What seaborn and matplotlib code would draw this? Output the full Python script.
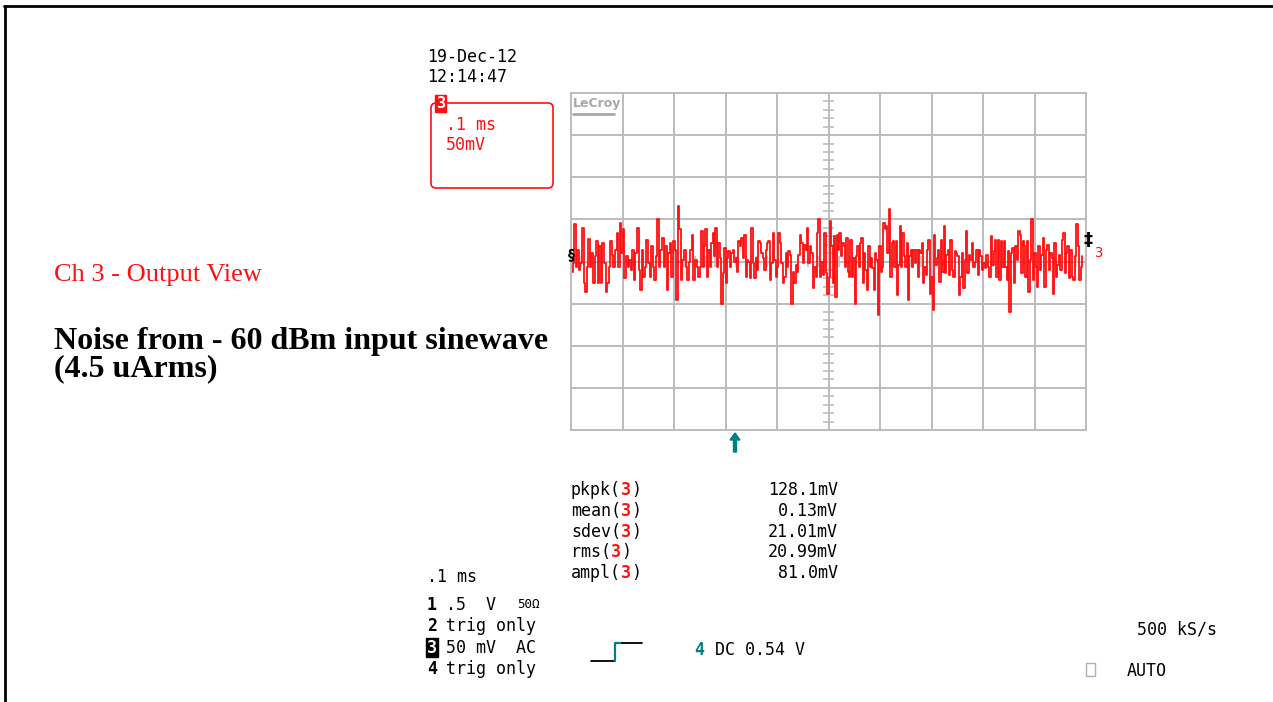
import numpy as np
import pandas as pd
import matplotlib
matplotlib.use("Agg")
import matplotlib.pyplot as plt
import seaborn as sns
from matplotlib.patches import FancyBboxPatch, Rectangle, FancyArrow
from matplotlib.lines import Line2D
from matplotlib.transforms import IdentityTransform

# Noise trace, mV, in four time spans (ms)
seg1 = [-12, -2, 44, -6, 14, -10, -2, 40, -26, -36, -6, 27, -6, 10, -26, 6, 24, -26, 18, -26,
        22, -2, -36, -26, -6, 24, 8, -6, 14, 34, -6, 46, 10, 38, -20, 6, -6, 2, -10, 14,
        -22, 10, 40, -10, -34, 14, -18, -6, 26, -2, -18, 18, -6, -22, 6, 50, -6, 14, 28, -6,
        18, -34, 10, 22, -18, 24, 14, -46, 66, 38, -22, 2, 14, -6, -22, 0, 14, 32, -22, 2,
        -6, -18]
seg2 = [-6, 36, -6, 18, 38, -18, 14, -6, 22, 34, 6, 40, -6, 22, 4, -50, -14, 16, -26, 4,
        12, -6, 10, 14, 0, 4, -12, 24, 18, 28, 4, 32, -18, 2, 0, -20, 40, -2, -20, 4,
        -10, 24, 22, 10, 4, -10, 14, 22, 24, -22, -2, 34, 2, -18, -6, 34, 22, -2, -26, -18,
        10, -6, 12, 8, -50, -12, -26, -4, -12, 8, 32, 22, -2, 20, 14, 40, -2, 18, 10, -32,
        -6, -18, 34, 50, -18, 0, -16, 34, -14, -38]
seg3 = [-18, 48, 18, -26, 30, -42, 32, 14, 34, 6, 22, 18, -6, 28, -12, -18, 26, -18, 4, -50,
        6, 18, -6, 22, 28, -26, 10, -10, -34, 18, -6, 4, -8, -34, 10, 2, -64, 18, -12, -6,
        46, 38, 42, 10, 62, -18, 22, 24, -6, 24, -40, -4, 42, -6, 34, 6, -6, 22, -46, 6,
        14, -6, 14, -2, 14, -18, 14, 10, 22, -26, -6, -16, 14, 26, -38, -18, -58, 32, -4, 4,
        14, -24, 26, -12, 42, -14, 8, 14, -16, 26, -10, -18, 12, 10]
seg4 = [6, -40, -18, 10, -32, 2, 36, -14, 8, 2, 22, -6, 0, 14, -16, 14, 6, -10, -2, -8,
        8, -6, -18, 30, -4, 12, 26, -18, 26, -22, 24, -6, 24, -6, -22, 12, -60, 10, 16, -26,
        18, 2, 36, 32, -14, 24, 18, -18, 24, -36, 2, 50, -22, 10, -6, -30, 18, -10, 8, 28,
        -30, 14, 20, -10, 10, 4, -38, 22, -18, -4, 8, -10, 26, 34, -14, 10, 18, -20, 14, -18,
        -22, 6, 44, 18, -22, -6, 6]
seg_spans = [(0.0, 0.25), (0.25, 0.5), (0.5, 0.75), (0.75, 0.995)]

measure_names = ["pkpk", "mean", "sdev", "rms", "ampl"]
measure_values = ["128.1mV", "0.13mV", "21.01mV", "20.99mV", "81.0mV"]
channel_labels = ["1", "2", "3", "4"]
channel_settings = [".5  V", "trig only", "50 mV  AC", "trig only"]

parts = []
for seg, (t0, t1) in zip([seg1, seg2, seg3, seg4], seg_spans):
    parts.append(pd.DataFrame({"t": np.linspace(t0, t1, len(seg), endpoint=False), "mV": seg}))
df = pd.concat(parts, ignore_index=True)

sns.set_style("white")
plt.rcParams["font.family"] = ["DejaVu Sans"]
plt.rcParams["text.color"] = "black"

W, H = 1273, 702
fig = plt.figure(figsize=(W / 100, H / 100), dpi=100)
RED = "#ff1010"
TEAL = "#008080"
GRAY = "#bcbcbc"
MONO = "DejaVu Sans Mono"
SERIF = "Liberation Serif"
px = IdentityTransform()


def ft(x, y, s, **kw):
    kw.setdefault("va", "center")
    kw.setdefault("family", MONO)
    kw.setdefault("fontsize", 12)
    kw.setdefault("color", "black")
    fig.text(x / W, 1 - y / H, s, **kw)


# scope screen
ax = fig.add_axes([571 / W, 1 - 430 / H, 515 / W, 337 / H])
ax.set_xlim(0, 1.0)
ax.set_ylim(-200, 200)
ax.set_xticks(np.arange(0, 1.01, 0.1))
ax.set_yticks(np.arange(-200, 201, 50))
ax.grid(True, color=GRAY, lw=1.4)
ax.tick_params(length=0, labelbottom=False, labelleft=False)
for sp in ax.spines.values():
    sp.set_color(GRAY)
    sp.set_linewidth(1.4)
minor_y = [y for y in range(-200, 201, 10) if y % 50 != 0]
ax.hlines(minor_y, 0.49, 0.51, color=GRAY, lw=1.2)
minor_x = [x / 100 for x in range(0, 101, 2) if x % 10 != 0]
ax.vlines(minor_x, -6, 6, color=GRAY, lw=1.2)
sns.lineplot(data=df, x="t", y="mV", ax=ax, color=RED, lw=1.3, estimator=None,
             drawstyle="steps-post")
ax.set_xlabel("")
ax.set_ylabel("")

# LeCroy logo
ft(573, 104, "LeCroy", color="#a8a8a8", fontsize=9, fontweight="bold", family="DejaVu Sans")
fig.add_artist(Line2D([573, 614], [H - 114, H - 114], color="#a8a8a8", lw=2, transform=px))

# ground markers
ft(568, 254, "§", color="black", fontsize=10, fontweight="bold", family="DejaVu Sans")
ft(1083, 240, "‡", color="black", fontsize=13, fontweight="bold", family="DejaVu Sans")
ft(1094, 253, "3", color=RED, fontsize=10, family=MONO)

# trigger position arrow
fig.add_artist(FancyArrow(735, H - 452, 0, 19, width=3, head_width=10, head_length=7,
                          length_includes_head=True, color=TEAL, transform=px))

# frame lines
fig.add_artist(Line2D([4, W], [H - 6, H - 6], color="black", lw=2, transform=px))
fig.add_artist(Line2D([5, 5], [H - 6, 0], color="black", lw=2, transform=px))

# date / time
ft(427, 57, "19-Dec-12")
ft(427, 77, "12:14:47")

# channel box
fig.add_artist(FancyBboxPatch((431, H - 188), 122, 85, boxstyle="round,pad=0,rounding_size=5",
                              fc="none", ec=RED, lw=1.2, transform=px))
fig.add_artist(Rectangle((435, H - 112), 11, 17, fc=RED, ec=RED, transform=px))
ft(440.5, 103, "3", color="white", fontsize=11, fontweight="bold", ha="center")
ft(446, 125, ".1 ms", color=RED)
ft(446, 145, "50mV", color=RED)

# annotations on the slide
ft(54, 275, "Ch 3 - Output View", color=RED, family=SERIF, fontsize=19)
ft(54, 341, "Noise from - 60 dBm input sinewave", color="black", family=SERIF,
   fontsize=23, fontweight="bold")
ft(54, 369, "(4.5 uArms)", color="black", family=SERIF, fontsize=23, fontweight="bold")

# measurements
cw = 10.03
for i, (name, val) in enumerate(zip(measure_names, measure_values)):
    y = 490 + i * 20.8
    ft(571, y, name + "(")
    ft(571 + cw * (len(name) + 1), y, "3", color=RED, fontweight="bold")
    ft(571 + cw * (len(name) + 2), y, ")")
    ft(838, y, val, ha="right")

# timebase and channel list
ft(427, 577, ".1 ms")
for i, (lab, setting) in enumerate(zip(channel_labels, channel_settings)):
    y = 605 + i * 21.3
    if lab == "3":
        ft(427, y, lab, color="white", fontweight="bold",
           bbox=dict(boxstyle="square,pad=0.05", fc="black", ec="black"))
    else:
        ft(427, y, lab, fontweight="bold")
    ft(446, y, setting)
ft(517, 605, "50Ω", fontsize=9)

# trigger symbol
fig.add_artist(Line2D([591, 614], [H - 661, H - 661], color="black", lw=1.3, transform=px))
fig.add_artist(Line2D([615, 615, 622], [H - 661, H - 643, H - 643], color=TEAL, lw=1.6, transform=px))
fig.add_artist(Line2D([622, 642], [H - 643, H - 643], color="black", lw=1.3, transform=px))
ft(694, 650, "4", color=TEAL, fontweight="bold")
ft(715, 650, "DC 0.54 V")

ft(1137, 630, "500 kS/s")
fig.add_artist(Rectangle((1086, H - 676), 9, 13, fc="none", ec="#b0b0b0", lw=1, transform=px))
ft(1127, 671, "AUTO")

fig.savefig("out.png", dpi=100)
